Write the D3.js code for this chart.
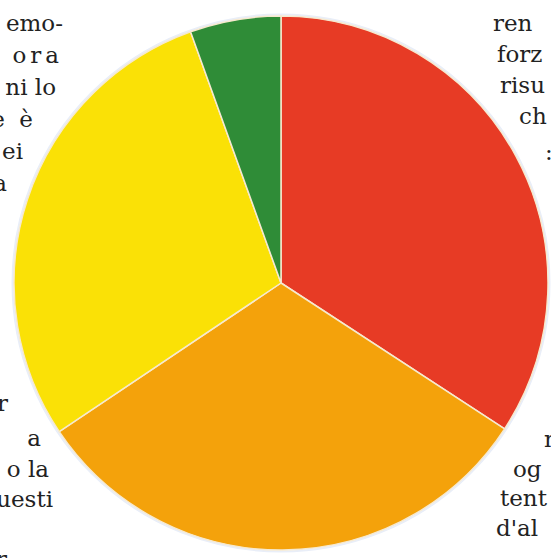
<!DOCTYPE html>
<html>
<head>
<meta charset="utf-8">
<script src="https://cdn.jsdelivr.net/npm/d3@7"></script>
<style>
  body { margin: 0; background: #fff; }
  svg { display: block; }
</style>
</head>
<body>
<div id="chart"></div>
<script>
// slices, clockwise from 12 o'clock
const categories = ["rosso", "arancione", "giallo", "verde"];
const values = [34.2, 31.4, 28.9, 5.5];
const colors = ["#E73B25", "#F4A20B", "#FAE106", "#2F8C37"];

// bits of article text wrapping round the chart
const leftText = [
    { t: "emo-", x: 63, y: 31 },
    { t: "ora", x: 63, y: 63, ls: 4 },
    { t: "ni lo", x: 56, y: 95 },
    { t: "e  è", x: 33, y: 127 },
    { t: "ei", x: 23, y: 159 },
    { t: "a", x: 7, y: 191 },
    { t: "r", x: 8, y: 411 },
    { t: "a", x: 41, y: 446 },
    { t: "o la", x: 49, y: 477 },
    { t: "uesti", x: 53, y: 507 },
    { t: "r", x: 7, y: 567 }
];
const rightText = [
    { t: "ren", x: 493, y: 31 },
    { t: "forz", x: 497, y: 62 },
    { t: "risu", x: 500, y: 93 },
    { t: "ch", x: 519, y: 124 },
    { t: ":", x: 545, y: 160 },
    { t: "n", x: 544, y: 447 },
    { t: "og", x: 513, y: 477 },
    { t: "tent", x: 500, y: 506 },
    { t: "d'al", x: 496, y: 536 }
];

const width = 551;
const height = 558;
const cx = 281, cy = 283, radius = 267;

const svg = d3.select("#chart")
    .append("svg")
    .attr("width", width)
    .attr("height", height);

const textStyle = sel => sel
    .style("font-family", "'DejaVu Serif', 'Liberation Serif', serif")
    .style("font-size", "23px")
    .attr("fill", "#222");

svg.selectAll("text.left")
    .data(leftText)
    .enter()
    .append("text")
    .attr("class", "left")
    .attr("x", d => d.x)
    .attr("y", d => d.y)
    .attr("text-anchor", "end")
    .style("white-space", "pre")
    .style("letter-spacing", d => d.ls ? d.ls + "px" : null)
    .call(textStyle)
    .text(d => d.t);

svg.selectAll("text.right")
    .data(rightText)
    .enter()
    .append("text")
    .attr("class", "right")
    .attr("x", d => d.x)
    .attr("y", d => d.y)
    .attr("text-anchor", "start")
    .call(textStyle)
    .text(d => d.t);

const pie = d3.pie().sort(null).value(d => d);
const arc = d3.arc().innerRadius(0).outerRadius(radius);

const g = svg.append("g")
    .attr("transform", `translate(${cx},${cy})`);

// soft pale rim round the disc
g.append("circle")
    .attr("r", radius + 1.5)
    .attr("fill", "none")
    .attr("stroke", "#e9eef8")
    .attr("stroke-width", 2);

g.selectAll("path")
    .data(pie(values))
    .enter()
    .append("path")
    .attr("d", arc)
    .attr("fill", (d, i) => colors[i])
    .attr("stroke", "#f6e9cf")
    .attr("stroke-width", 1.5)
    .attr("stroke-linejoin", "round");
</script>
</body>
</html>
